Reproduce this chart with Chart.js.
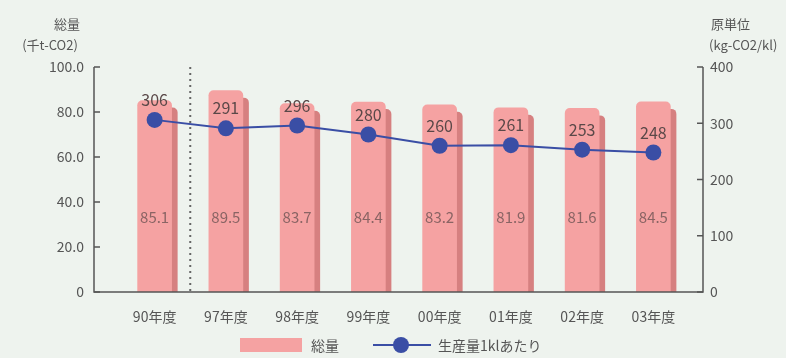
<!DOCTYPE html>
<html>
<head>
<meta charset="utf-8">
<script src="https://cdn.jsdelivr.net/npm/chart.js@4"></script>
<style>
  html, body { margin: 0; padding: 0; background: #eef3ee; }
  #wrap { width: 786px; height: 358px; }
</style>
</head>
<body>
<div id="wrap"><canvas id="chart" width="786" height="358"></canvas></div>
<script>
// data
const years = ['90年度', '97年度', '98年度', '99年度', '00年度', '01年度', '02年度', '03年度'];
const totals = [85.1, 89.5, 83.7, 84.4, 83.2, 81.9, 81.6, 84.5];
const perKl = [306, 291, 296, 280, 260, 261, 253, 248];
const leftTicks = [0, 20, 40, 60, 80, 100];
const rightTicks = [0, 100, 200, 300, 400];

const font = '"Noto Sans CJK JP", "Noto Sans", sans-serif';
const pink = 'rgb(245,162,162)';
const pinkDark = 'rgb(214,128,128)';
const blue = 'rgb(58,78,165)';

// shadow behind bars, axes frame, labels, legend
const decor = {
    id: 'decor',
    beforeDatasetsDraw(chart) {
        const ctx = chart.ctx;
        const meta = chart.getDatasetMeta(0);
        ctx.save();
        ctx.fillStyle = pinkDark;
        meta.data.forEach(b => {
            const w = b.width;
            ctx.beginPath();
            ctx.roundRect(b.x - w / 2 + 6, b.y + 7, w, b.base - b.y - 7, [5, 5, 0, 0]);
            ctx.fill();
        });
        ctx.restore();
    },
    afterDatasetsDraw(chart) {
        const ctx = chart.ctx;
        const y = chart.scales.y;
        const y2 = chart.scales.y2;
        const x = chart.scales.x;
        const L = 94, R = 703, T = y.getPixelForValue(100), B = y.getPixelForValue(0);
        ctx.save();
        // axes
        ctx.strokeStyle = '#555';
        ctx.lineWidth = 1.5;
        ctx.beginPath();
        ctx.moveTo(L, T); ctx.lineTo(L, B); ctx.lineTo(R, B); ctx.lineTo(R, T);
        ctx.stroke();
        ctx.beginPath();
        leftTicks.forEach(v => { const p = y.getPixelForValue(v); ctx.moveTo(L, p); ctx.lineTo(L + 6, p); });
        rightTicks.forEach(v => { const p = y2.getPixelForValue(v); ctx.moveTo(R, p); ctx.lineTo(R - 6, p); });
        ctx.stroke();
        // dotted separator between 90 and 97
        const sx = (x.getPixelForValue(0) + x.getPixelForValue(1)) / 2;
        ctx.setLineDash([2, 4]);
        ctx.lineWidth = 2;
        ctx.strokeStyle = '#666';
        ctx.beginPath(); ctx.moveTo(sx, T); ctx.lineTo(sx, B); ctx.stroke();
        ctx.setLineDash([]);
        // value labels
        ctx.textAlign = 'center';
        ctx.textBaseline = 'middle';
        ctx.font = '15px ' + font;
        ctx.fillStyle = '#8a6464';
        chart.getDatasetMeta(0).data.forEach((b, i) => {
            ctx.fillText(totals[i].toFixed(1), b.x, y.getPixelForValue(33));
        });
        ctx.fillStyle = '#5a4848';
        ctx.font = '16px ' + font;
        chart.getDatasetMeta(1).data.forEach((p, i) => {
            ctx.fillText(String(perKl[i]), p.x, p.y - 20);
        });
        // axis titles
        ctx.fillStyle = '#555';
        ctx.font = '13px ' + font;
        ctx.fillText('総量', 67, 24);
        ctx.fillText('(千t-CO2)', 50, 45);
        ctx.textAlign = 'left';
        ctx.fillText('原単位', 711, 24);
        ctx.fillText('(kg-CO2/kl)', 709, 45);
        // legend
        ctx.fillStyle = pink;
        ctx.fillRect(240, 338, 62, 14);
        ctx.fillStyle = '#555';
        ctx.font = '14px ' + font;
        ctx.fillText('総量', 311, 346);
        ctx.strokeStyle = blue;
        ctx.lineWidth = 2;
        ctx.beginPath(); ctx.moveTo(373, 345); ctx.lineTo(431, 345); ctx.stroke();
        ctx.fillStyle = blue;
        ctx.beginPath(); ctx.arc(401, 345, 8, 0, Math.PI * 2); ctx.fill();
        ctx.fillStyle = '#555';
        ctx.fillText('生産量1klあたり', 438, 346);
        ctx.restore();
    }
};

new Chart(document.getElementById('chart'), {
    data: {
        labels: years,
        datasets: [{
            type: 'bar',
            label: '総量',
            data: totals,
            backgroundColor: pink,
            borderRadius: { topLeft: 5, topRight: 5 },
            borderSkipped: 'bottom',
            barThickness: 34,
            yAxisID: 'y',
            order: 1
        }, {
            type: 'line',
            label: '生産量1klあたり',
            data: perKl,
            borderColor: blue,
            backgroundColor: blue,
            borderWidth: 2,
            pointRadius: 8,
            pointBackgroundColor: blue,
            pointBorderWidth: 0,
            yAxisID: 'y2',
            order: 0
        }]
    },
    options: {
        responsive: false,
        animation: false,
        layout: { padding: { top: 67 } },
        plugins: { legend: { display: false }, tooltip: { enabled: false } },
        scales: {
            x: {
                grid: { display: false },
                border: { display: false },
                ticks: { color: '#555', font: { family: font, size: 14 }, padding: 8, maxRotation: 0 },
                afterFit(s) { s.height = 66; }
            },
            y: {
                position: 'left',
                min: 0, max: 100,
                afterBuildTicks(s) { s.ticks = leftTicks.map(v => ({ value: v })); },
                grid: { display: false, drawTicks: false },
                border: { display: false },
                ticks: {
                    color: '#555', padding: 35,
                    font: { family: font, size: 14 },
                    callback: v => v === 0 ? '0' : v.toFixed(1)
                },
                afterFit(s) { s.width = 119; }
            },
            y2: {
                position: 'right',
                min: 0, max: 400,
                afterBuildTicks(s) { s.ticks = rightTicks.map(v => ({ value: v })); },
                grid: { display: false, drawTicks: false },
                border: { display: false },
                ticks: { color: '#555', padding: 21, font: { family: font, size: 14 } },
                afterFit(s) { s.width = 97; }
            }
        }
    },
    plugins: [decor]
});
</script>
</body>
</html>
